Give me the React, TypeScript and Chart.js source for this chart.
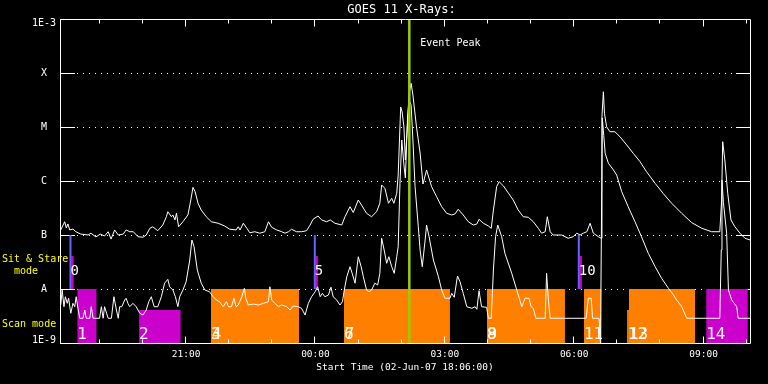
import React, { useEffect, useRef } from "react";
import { Chart, registerables } from "chart.js";

Chart.register(...registerables);

// time axis: minutes after start (02-Jun-07 18:06:00)
const X_MIN = 0;
const X_MAX = 960;
const Y_MIN = 1e-9;
const Y_MAX = 1e-3;

const title = "GOES 11 X-Rays:";
const xAxisTitle = "Start Time (02-Jun-07 18:06:00)";
const eventPeakLabel = "Event Peak";
const eventPeakTime = 486;

// hourly ticks (19:00 ... 10:00)
const hourTicks = [54, 114, 174, 234, 294, 354, 414, 474, 534, 594, 654, 714, 774, 834, 894, 954];
const labeledTicks = [174, 354, 534, 714, 894];
const labeledTickText = ["21:00", "00:00", "03:00", "06:00", "09:00"];

const yTickValues = [1e-9, 1e-8, 1e-7, 1e-6, 1e-5, 1e-4, 1e-3];
const yTickText = ["1E-9", "A", "B", "C", "M", "X", "1E-3"];

// GOES long channel (1-8 A), [minutes, W/m^2]
const longChannel: [number, number][] = [
  [1,1.24e-7],[6.5,1.76e-7],[8.8,1.35e-7],[11,1.6e-7],[13.5,1.24e-7],[18,1.29e-7],[22,1.15e-7],[29,1.04e-7],[39,1.0e-7],[43,1.08e-7],[50,9.2e-8],[56,1.04e-7],[62,9.6e-8],[67,1.15e-7],[71,8.4e-8],[76,1.24e-7],[81,1.0e-7],[88,1.04e-7],[92,1.24e-7],[97,1.15e-7],[102,1.15e-7],[108.5,9.3e-8],[115.5,9.1e-8],[120,1.0e-7],[125,1.33e-7],[129,1.42e-7],[136,1.2e-7],[143,1.53e-7],[148,2.18e-7],[150,2.7e-7],[155,2.18e-7],[157,2.35e-7],[160,1.9e-7],[162,2.52e-7],[165,1.42e-7],[171,1.76e-7],[178,2.35e-7],[182,4.45e-7],[185,7.64e-7],[188,6.34e-7],[192,3.87e-7],[196.5,2.9e-7],[203.5,2.18e-7],[210.5,1.76e-7],[220,1.65e-7],[229,1.47e-7],[236,1.28e-7],[245,1.24e-7],[248,1.42e-7],[250.5,1.24e-7],[255,1.65e-7],[260,1.33e-7],[264,1.1e-7],[271,1.15e-7],[278,1.08e-7],[285,1.15e-7],[290,1.76e-7],[294.5,1.39e-7],[301.5,1.24e-7],[308.5,1.15e-7],[313,1.08e-7],[318,1.15e-7],[322,1.28e-7],[329,1.15e-7],[336,1.15e-7],[343,1.2e-7],[348,1.53e-7],[352,1.95e-7],[359,2.25e-7],[364,1.9e-7],[371,1.76e-7],[376,1.9e-7],[382.5,1.65e-7],[392,1.53e-7],[396.5,2.18e-7],[403.5,3.34e-7],[408,2.6e-7],[415,4.45e-7],[419.5,3.59e-7],[426.5,2.52e-7],[433.5,2.18e-7],[440.5,2.7e-7],[445,3.87e-7],[447.5,8.43e-7],[452,7.32e-7],[457,3.87e-7],[461.5,4.78e-7],[464.5,3.87e-7],[468.5,5.92e-7],[470.5,1.29e-6],[474,2.35e-5],[476,1.9e-5],[478.5,1.0e-5],[480.5,2.45e-6],[483,8.8e-6],[485.5,3.91e-5],[488.5,6.45e-5],[491,3.91e-5],[496,1.0e-5],[501,3.3e-6],[505,8.8e-7],[510,1.6e-6],[517,7.84e-7],[524,5.12e-7],[531,3.34e-7],[538,2.52e-7],[545,2.35e-7],[549.5,2.45e-7],[554,2.99e-7],[561,2.35e-7],[568,1.76e-7],[575,1.53e-7],[580,1.6e-7],[583,1.95e-7],[589,1.65e-7],[596,1.47e-7],[600,1.33e-7],[603,2.9e-7],[607.5,7.84e-7],[611,9.7e-7],[617,8.08e-7],[624,5.92e-7],[630.5,4.45e-7],[637.5,2.9e-7],[644.5,2.18e-7],[651.5,2.13e-7],[658.5,1.76e-7],[665.5,1.33e-7],[670,1.08e-7],[675,1.15e-7],[678,2.18e-7],[682,1.15e-7],[686,1.0e-7],[698,1.0e-7],[707,8.7e-8],[714,9.3e-8],[719,1.08e-7],[723.5,1.0e-7],[728,1.08e-7],[733,1.15e-7],[737.5,1.65e-7],[742,1.08e-7],[749,9.3e-8],[753,8.7e-8],[754,1.55e-5],[756,4.5e-5],[757.5,1.79e-5],[760.5,1.01e-5],[765,8.18e-6],[772,8.18e-6],[779,6.61e-6],[788.5,4.64e-6],[797.5,3.26e-6],[807,2.28e-6],[816,1.49e-6],[828,9.06e-7],[839,5.92e-7],[851,3.87e-7],[865,2.52e-7],[879,1.69e-7],[893,1.33e-7],[906.5,1.15e-7],[918,1.15e-7],[920.5,4.45e-7],[922,5.34e-6],[925,2.45e-6],[929,5.92e-7],[933.5,1.9e-7],[939,1.42e-7],[946,1.08e-7],[953,8.7e-8],[960,8.1e-8]
];

// GOES short channel (0.5-4 A), [minutes, W/m^2]
const shortChannel: [number, number][] = [
  [1,5.05e-9],[3,9.58e-9],[5.5,4.7e-9],[7.5,7.2e-9],[10,5.43e-9],[12,6.73e-9],[15,3.55e-9],[18,5.43e-9],[20.5,4.7e-9],[22.5,7.2e-9],[25,4.39e-9],[27.5,2.87e-9],[32,2.87e-9],[34.5,4.08e-9],[36.5,2.87e-9],[41.5,2.87e-9],[43.5,4.7e-9],[46,2.87e-9],[55,2.87e-9],[57.5,4.7e-9],[60,2.87e-9],[62,4.7e-9],[67,2.87e-9],[71.5,2.87e-9],[75,7.2e-9],[78.5,4.08e-9],[81,2.87e-9],[83,4.7e-9],[86,4.7e-9],[90,6.25e-9],[92,6.73e-9],[94.5,5.43e-9],[97,4.7e-9],[101.5,5.43e-9],[106,4.7e-9],[111,3.55e-9],[115.5,3.3e-9],[120,4.08e-9],[123.5,5.82e-9],[127,7.2e-9],[131,4.7e-9],[136,4.7e-9],[141,7.2e-9],[145.5,1.28e-8],[150,1.51e-8],[152.5,1.1e-8],[157,9.58e-9],[160.5,7.2e-9],[164,4.7e-9],[166.5,7.2e-9],[171,9.58e-9],[175.5,1.37e-8],[180.5,3.44e-8],[183.5,8.08e-8],[186.5,6.07e-8],[191,2.25e-8],[196.5,1.28e-8],[201.5,9.58e-9],[208,8.91e-9],[213,7.2e-9],[217.5,6.25e-9],[222,5.82e-9],[227,4.7e-9],[231.5,5.82e-9],[234.5,4.7e-9],[238.5,4.7e-9],[242,6.73e-9],[245,4.7e-9],[248,5.05e-9],[253,7.2e-9],[256.5,1.03e-8],[258.5,6.73e-9],[262,5.05e-9],[269,5.27e-9],[276,5.05e-9],[283,5.43e-9],[290,5.82e-9],[292,1.1e-8],[294.5,6.25e-9],[299,5.43e-9],[304,4.7e-9],[308.5,5.05e-9],[315.5,4.7e-9],[320,4.08e-9],[324.5,4.84e-9],[331.5,4.7e-9],[336,4.39e-9],[341,3.3e-9],[345.5,5.43e-9],[350,7.2e-9],[355,8.91e-9],[358.5,1.1e-8],[362,7.2e-9],[365,8.32e-9],[368.5,7.2e-9],[373.5,7.74e-9],[377,1.08e-8],[380,7.2e-9],[385,6.25e-9],[389.5,5.05e-9],[393,5.82e-9],[395.5,9.58e-9],[399,1.69e-8],[403.5,2.59e-8],[406.5,1.95e-8],[410.5,1.28e-8],[415,3.96e-8],[419,2.59e-8],[422,1.69e-8],[426.5,9.58e-9],[430,8.91e-9],[433.5,9.58e-9],[438,1.28e-8],[442,1.19e-8],[445,1.95e-8],[447.5,8.69e-8],[451,5.27e-8],[454.5,2.99e-8],[457.5,3.96e-8],[461.5,2.59e-8],[465,1.95e-8],[468.5,3.96e-8],[470.5,6.07e-8],[473,9.06e-7],[475.5,5.74e-6],[478.5,1.98e-6],[480.5,1.14e-6],[483.5,1.47e-5],[485.5,3.16e-5],[488.5,2.55e-5],[491,5.74e-6],[494,7.84e-7],[498.5,1.42e-7],[501,5.27e-8],[504,2.59e-8],[508,8.08e-8],[510,1.53e-7],[513.5,9.3e-8],[519.5,3.44e-8],[526.5,1.69e-8],[531,9.58e-9],[535.5,6.73e-9],[542.5,6.73e-9],[545,8.32e-9],[548.5,7.02e-9],[553,1.74e-8],[556.5,1.37e-8],[561,8.32e-9],[566,4.7e-9],[573,4.39e-9],[577.5,4.7e-9],[580,4.21e-9],[583,9.31e-9],[586.5,4.7e-9],[593.5,4.58e-9],[596,2.87e-9],[600,2.87e-9],[603,2.25e-8],[606,9.3e-8],[609,1.53e-7],[614.5,9.3e-8],[619,4.58e-8],[628.5,1.95e-8],[635.5,9.58e-9],[642.5,4.7e-9],[647,6.73e-9],[652.5,6.73e-9],[655.5,4.7e-9],[658.5,4.39e-9],[662,2.87e-9],[675,2.87e-9],[677,1.95e-8],[679.5,6.25e-9],[682,2.87e-9],[732,2.87e-9],[735,6.73e-9],[739,6.73e-9],[741,2.87e-9],[750,2.87e-9],[752,1e-9],[754.5,1.47e-5],[756.5,7e-6],[758.5,3.26e-6],[763,2.13e-6],[770,1.6e-6],[774.5,1.29e-6],[781.5,6.34e-7],[790.5,3.34e-7],[800,1.76e-7],[809,9.3e-8],[818.5,4.58e-8],[828,2.59e-8],[837,1.58e-8],[846.5,1.03e-8],[853.5,7.74e-9],[858,6.25e-9],[865,4.7e-9],[872,2.87e-9],[918,2.87e-9],[920,5.3e-8],[921,1.04e-6],[923,4e-7],[927.5,1.08e-7],[930,9.58e-9],[934.5,6.25e-9],[941.5,4.7e-9],[943.5,2.87e-9],[960,2.87e-9]
];

// scan mode blocks
const blockStart = [24, 110, 210, 395, 594, 729, 789, 791.5, 899];
const blockEnd = [51, 168, 332.5, 542.5, 702.5, 753.5, 791.5, 883.5, 957];
const blockTop = [1e-8, 4.1e-9, 1e-8, 1e-8, 1e-8, 1e-8, 4.1e-9, 1e-8, 1e-8];
const blockKind = ["m", "m", "o", "o", "o", "o", "o", "o", "m"];

const scanLabelText = ["1", "2", "3", "4", "6", "7", "8", "9", "11", "12", "13", "14"];
const scanLabelTime = [24, 110, 210, 211, 395, 396, 594, 594.7, 729, 790, 791.5, 899];

// sit & stare pointings
const sitStareTime = [14.6, 354.5, 721.8];
const sitStareText = ["0", "5", "10"];
const sitStareHigh = 1e-7;
const sitStareMid = 4.1e-8;
const sitStareLow = 1e-8;
const sitStareOffset = 2.7;

const MONO = '"DejaVu Sans Mono", "Liberation Mono", monospace';
const MAGENTA = "#cc00cc";
const ORANGE = "#ff8000";
const BLUE = "#6464ff";
const GREEN = "#9ccc00";

const pts = (arr: [number, number][]) => arr.map(([x, y]) => ({ x, y }));

const goesPlugin = {
  id: "goesDecor",
  beforeDraw(chart: any) {
    const { ctx, width, height } = chart;
    ctx.save();
    ctx.fillStyle = "#000";
    ctx.fillRect(0, 0, width, height);
    ctx.restore();
  },
  beforeDatasetsDraw(chart: any) {
    const { ctx, chartArea: a, scales } = chart;
    const y = scales.y;
    ctx.save();
    ctx.strokeStyle = "#fff";
    ctx.lineWidth = 1;
    yTickValues.forEach((v, i) => {
      const py = Math.round(y.getPixelForValue(v)) + 0.5;
      if (i > 0 && i < yTickValues.length - 1) {
        ctx.setLineDash([1, 5]);
        ctx.beginPath();
        ctx.moveTo(a.left + 17, py);
        ctx.lineTo(a.right - 14, py);
        ctx.stroke();
      }
      ctx.setLineDash([]);
      ctx.beginPath();
      ctx.moveTo(a.left, py);
      ctx.lineTo(a.left + 15, py);
      ctx.moveTo(a.right - 14, py);
      ctx.lineTo(a.right, py);
      ctx.stroke();
    });
    ctx.restore();
  },
  afterDraw(chart: any) {
    const { ctx, chartArea: a, scales } = chart;
    const x = scales.x;
    const y = scales.y;
    ctx.save();
    ctx.strokeStyle = "#fff";
    ctx.lineWidth = 1;
    ctx.setLineDash([]);
    const L = Math.round(a.left) + 0.5;
    const T = Math.round(a.top) + 0.5;
    const R = Math.round(a.right) + 0.5;
    const B = Math.round(a.bottom) + 0.5;
    ctx.beginPath();
    ctx.moveTo(L, T);
    ctx.lineTo(R, T);
    ctx.lineTo(R, B);
    ctx.lineTo(L, B);
    ctx.closePath();
    ctx.stroke();

    // hour ticks top & bottom
    hourTicks.forEach((v) => {
      const px = Math.round(x.getPixelForValue(v)) + 0.5;
      const len = labeledTicks.includes(v) ? 7 : 4;
      ctx.beginPath();
      ctx.moveTo(px, B);
      ctx.lineTo(px, B - len);
      ctx.moveTo(px, T);
      ctx.lineTo(px, T + len);
      ctx.stroke();
    });

    ctx.fillStyle = "#fff";
    // title
    ctx.font = `12px ${MONO}`;
    ctx.textAlign = "center";
    ctx.textBaseline = "middle";
    ctx.fillText(title, (a.left + a.right) / 2 - 3.5, a.top - 9);

    // x labels
    ctx.font = `9.5px ${MONO}`;
    labeledTicks.forEach((v, i) => {
      ctx.fillText(labeledTickText[i], x.getPixelForValue(v) + 1, a.bottom + 12);
    });
    ctx.fillText(xAxisTitle, (a.left + a.right) / 2, a.bottom + 25);

    // y labels
    ctx.font = `10px ${MONO}`;
    yTickValues.forEach((v, i) => {
      let py = y.getPixelForValue(v);
      if (i === yTickValues.length - 1) py += 4;
      if (i === 0) py -= 3;
      ctx.fillText(yTickText[i], a.left - 16, py);
    });

    // yellow mode labels
    ctx.fillStyle = "#ffff00";
    ctx.textAlign = "left";
    const pB = y.getPixelForValue(1e-7);
    const pA = y.getPixelForValue(1e-8);
    ctx.fillText("Sit & Stare", 2, pB + 24);
    ctx.fillText("  mode", 2, pB + 36);
    ctx.fillText("Scan mode", 2, pA + 35);

    // event peak
    ctx.fillStyle = "#fff";
    ctx.fillText(eventPeakLabel, x.getPixelForValue(eventPeakTime) + 11, a.top + 24);

    // sit & stare numbers
    ctx.font = `14px ${MONO}`;
    sitStareText.forEach((t, i) => {
      ctx.fillText(t, x.getPixelForValue(sitStareTime[i]), pA - 18);
    });

    // scan numbers
    ctx.font = `16px ${MONO}`;
    ctx.textBaseline = "alphabetic";
    scanLabelText.forEach((t, i) => {
      ctx.fillText(t, x.getPixelForValue(scanLabelTime[i]), a.bottom - 4);
    });
    ctx.restore();
  },
};

export default function App() {
  const ref = useRef<HTMLCanvasElement | null>(null);
  useEffect(() => {
    document.body.style.margin = "0";
    document.body.style.background = "#000";
    const datasets: any[] = [];
    datasets.push({
      data: [{ x: eventPeakTime, y: Y_MIN }, { x: eventPeakTime, y: Y_MAX }],
      borderColor: GREEN,
      borderWidth: 2.5,
      pointRadius: 0,
      order: 0,
    });
    datasets.push({
      data: pts(longChannel),
      borderColor: "#ffffff",
      borderWidth: 1,
      pointRadius: 0,
      tension: 0,
      order: 1,
    });
    datasets.push({
      data: pts(shortChannel),
      borderColor: "#ffffff",
      borderWidth: 1,
      pointRadius: 0,
      tension: 0,
      order: 1,
    });
    sitStareTime.forEach((t) => {
      datasets.push({
        data: [{ x: t, y: sitStareHigh }, { x: t, y: sitStareLow }],
        borderColor: BLUE,
        borderWidth: 2,
        pointRadius: 0,
        order: 2,
      });
      datasets.push({
        data: [{ x: t + sitStareOffset, y: sitStareMid }, { x: t + sitStareOffset, y: sitStareLow }],
        borderColor: MAGENTA,
        borderWidth: 2.3,
        pointRadius: 0,
        order: 2,
      });
    });
    blockStart.forEach((s, i) => {
      datasets.push({
        data: [{ x: s, y: blockTop[i] }, { x: blockEnd[i], y: blockTop[i] }],
        borderColor: "rgba(0,0,0,0)",
        borderWidth: 0,
        backgroundColor: blockKind[i] === "m" ? MAGENTA : ORANGE,
        fill: "start",
        pointRadius: 0,
        order: 3,
      });
    });

    const chart = new Chart(ref.current as HTMLCanvasElement, {
      type: "line",
      data: { datasets },
      plugins: [goesPlugin],
      options: {
        responsive: false,
        animation: false,
        events: [],
        layout: { padding: { left: 60, right: 18, top: 19, bottom: 41 } },
        plugins: { legend: { display: false }, tooltip: { enabled: false }, title: { display: false } },
        scales: {
          x: { type: "linear", display: false, min: X_MIN, max: X_MAX },
          y: { type: "logarithmic", display: false, min: Y_MIN, max: Y_MAX },
        },
      },
    } as any);
    return () => chart.destroy();
  }, []);
  return (
    <div style={{ width: 768, height: 384, background: "#000" }}>
      <canvas ref={ref} width={768} height={384} style={{ display: "block", width: 768, height: 384 }} />
    </div>
  );
}
